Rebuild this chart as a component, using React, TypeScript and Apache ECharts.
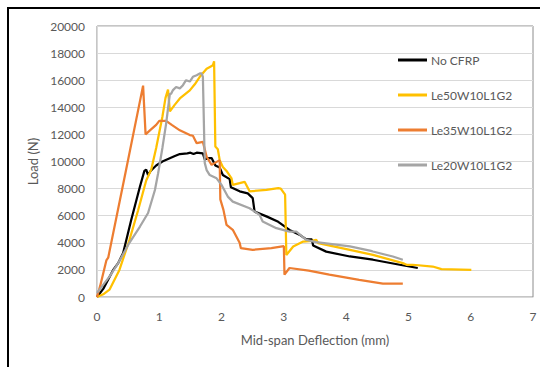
import React, { useEffect, useRef } from "react";
import * as echarts from "echarts";

const seriesNames = ["No CFRP", "Le50W10L1G2", "Le35W10L1G2", "Le20W10L1G2"];
const seriesColors = ["#000000", "#FFC000", "#ED7D31", "#A5A5A5"];

const noCfrp: number[][] = [
  [0, 0], [0.1, 600], [0.26, 2000], [0.34, 2500], [0.42, 3250], [0.55, 5700], [0.69, 8150],
  [0.76, 9300], [0.79, 9400], [0.82, 9000], [0.86, 9300], [0.95, 9700], [1.05, 10000],
  [1.15, 10200], [1.25, 10400], [1.33, 10550], [1.45, 10600], [1.5, 10650], [1.55, 10550],
  [1.6, 10650], [1.7, 10600], [1.73, 10150], [1.78, 10250], [1.84, 10250], [1.9, 9700],
  [1.97, 9550], [2.02, 9000], [2.13, 8700], [2.15, 8100], [2.29, 7800], [2.42, 7650],
  [2.5, 7300], [2.53, 6300], [2.72, 5950], [2.91, 5550], [3.09, 4950], [3.25, 4600],
  [3.36, 4250], [3.45, 4250], [3.47, 3800], [3.68, 3350], [4.06, 2990], [4.43, 2750],
  [4.86, 2380], [5.15, 2140],
];

const le50: number[][] = [
  [0, 0], [0.1, 200], [0.2, 540], [0.36, 2000], [0.52, 4200], [0.66, 6400], [0.79, 8600],
  [0.87, 9400], [0.95, 11000], [1.05, 13300], [1.1, 14700], [1.14, 15300], [1.17, 13700],
  [1.25, 14200], [1.33, 14650], [1.49, 15250], [1.57, 15700], [1.65, 16250], [1.76, 16850],
  [1.82, 17000], [1.86, 17100], [1.88, 17400], [1.9, 11100], [1.94, 10900], [1.97, 10100],
  [2.02, 9600], [2.08, 9300], [2.16, 8750], [2.18, 8270], [2.29, 8400], [2.37, 8500],
  [2.45, 7800], [2.72, 7900], [2.91, 8030], [2.95, 8000], [3.02, 7550], [3.04, 3100],
  [3.15, 3730], [3.31, 4090], [3.45, 4150], [3.52, 4220], [3.55, 3980], [4.06, 3480],
  [4.43, 3110], [4.91, 2500], [4.97, 2380], [5.07, 2380], [5.39, 2250], [5.53, 2060],
  [6.01, 2010],
];

const le35: number[][] = [
  [0, 0], [0.05, 800], [0.15, 2700], [0.18, 2900], [0.45, 9000], [0.74, 15600], [0.78, 12000],
  [0.85, 12300], [0.95, 12700], [1.0, 13000], [1.11, 13000], [1.2, 12700], [1.33, 12300],
  [1.49, 11950], [1.54, 11900], [1.6, 11350], [1.7, 11450], [1.76, 10350], [1.84, 9750],
  [1.97, 10100], [1.98, 7200], [2.03, 6430], [2.08, 5320], [2.18, 4960], [2.29, 4000],
  [2.31, 3600], [2.5, 3480], [2.8, 3600], [3.0, 3750], [3.01, 1650], [3.09, 2140],
  [3.4, 1950], [3.73, 1650], [4.21, 1270], [4.59, 980], [4.91, 980],
];

const le20: number[][] = [
  [0, 300], [0.2, 1500], [0.34, 2500], [0.52, 4000], [0.69, 5200], [0.82, 6200], [0.93, 7900],
  [0.98, 9100], [1.05, 11000], [1.11, 12800], [1.17, 15000], [1.19, 15000], [1.22, 15270],
  [1.27, 15500], [1.33, 15400], [1.38, 15630], [1.43, 16000], [1.49, 15900], [1.54, 16250],
  [1.6, 16370], [1.65, 16500], [1.68, 16500], [1.7, 16250], [1.73, 9900], [1.76, 9370],
  [1.81, 9000], [1.92, 8760], [2.0, 8270], [2.1, 7410], [2.18, 7040], [2.45, 6550],
  [2.61, 6060], [2.66, 5570], [2.88, 5080], [3.09, 4830], [3.2, 4830], [3.36, 4220],
  [3.52, 4050], [4.06, 3730], [4.4, 3400], [4.43, 3360], [4.75, 2990], [4.91, 2750],
];

const allData = [noCfrp, le50, le35, le20];

const FONT = "Lato, 'Noto Sans', sans-serif";

export default function App() {
  const ref = useRef<HTMLDivElement>(null);
  useEffect(() => {
    document.body.style.margin = "0";
    if (!ref.current) return;
    const chart = echarts.init(ref.current, undefined, { renderer: "svg" });
    chart.setOption({
      animation: false,
      backgroundColor: "#ffffff",
      textStyle: { fontFamily: FONT },
      graphic: [
        {
          type: "rect",
          shape: { x: 8, y: 8, width: 560, height: 400 },
          style: { fill: "none", stroke: "#000000", lineWidth: 2 },
          silent: true,
        },
      ],
      grid: {
        left: 97,
        right: 7,
        top: 26,
        bottom: 70,
        show: true,
        borderColor: "#8c8c8c",
        borderWidth: 1,
      },
      legend: {
        orient: "vertical",
        left: 398,
        top: 54,
        padding: 0,
        icon: "rect",
        itemWidth: 29,
        itemHeight: 3,
        itemGap: 23,
        textStyle: { color: "#595959", fontSize: 12, fontFamily: FONT, padding: [0, 0, 0, -1] },
        data: seriesNames,
      },
      xAxis: {
        type: "value",
        min: 0,
        max: 7,
        interval: 1,
        name: "Mid-span Deflection (mm)",
        nameLocation: "middle",
        nameGap: 36,
        nameTextStyle: { color: "#595959", fontSize: 13, fontFamily: FONT },
        axisLine: { show: true, lineStyle: { color: "#d9d9d9" } },
        axisTick: { show: false },
        axisLabel: { color: "#595959", fontSize: 12, margin: 13, fontFamily: FONT },
        splitLine: { show: false },
      },
      yAxis: {
        type: "value",
        min: 0,
        max: 20000,
        interval: 2000,
        name: "Load (N)",
        nameLocation: "middle",
        nameGap: 53,
        nameTextStyle: { color: "#595959", fontSize: 13, fontFamily: FONT },
        axisLine: { show: true, lineStyle: { color: "#d9d9d9" } },
        axisTick: { show: false },
        axisLabel: {
          color: "#595959",
          fontSize: 12,
          margin: 12,
          fontFamily: FONT,
          formatter: (v: number) => String(v),
        },
        splitLine: { show: true, lineStyle: { color: "#d9d9d9", width: 1 } },
      },
      series: seriesNames.map((name, i) => ({
        name,
        type: "line",
        data: allData[i],
        symbol: "none",
        color: seriesColors[i],
        lineStyle: { color: seriesColors[i], width: 2.25 },
      })),
    });
    return () => chart.dispose();
  }, []);
  return <div ref={ref} style={{ width: 540, height: 367 }} />;
}
